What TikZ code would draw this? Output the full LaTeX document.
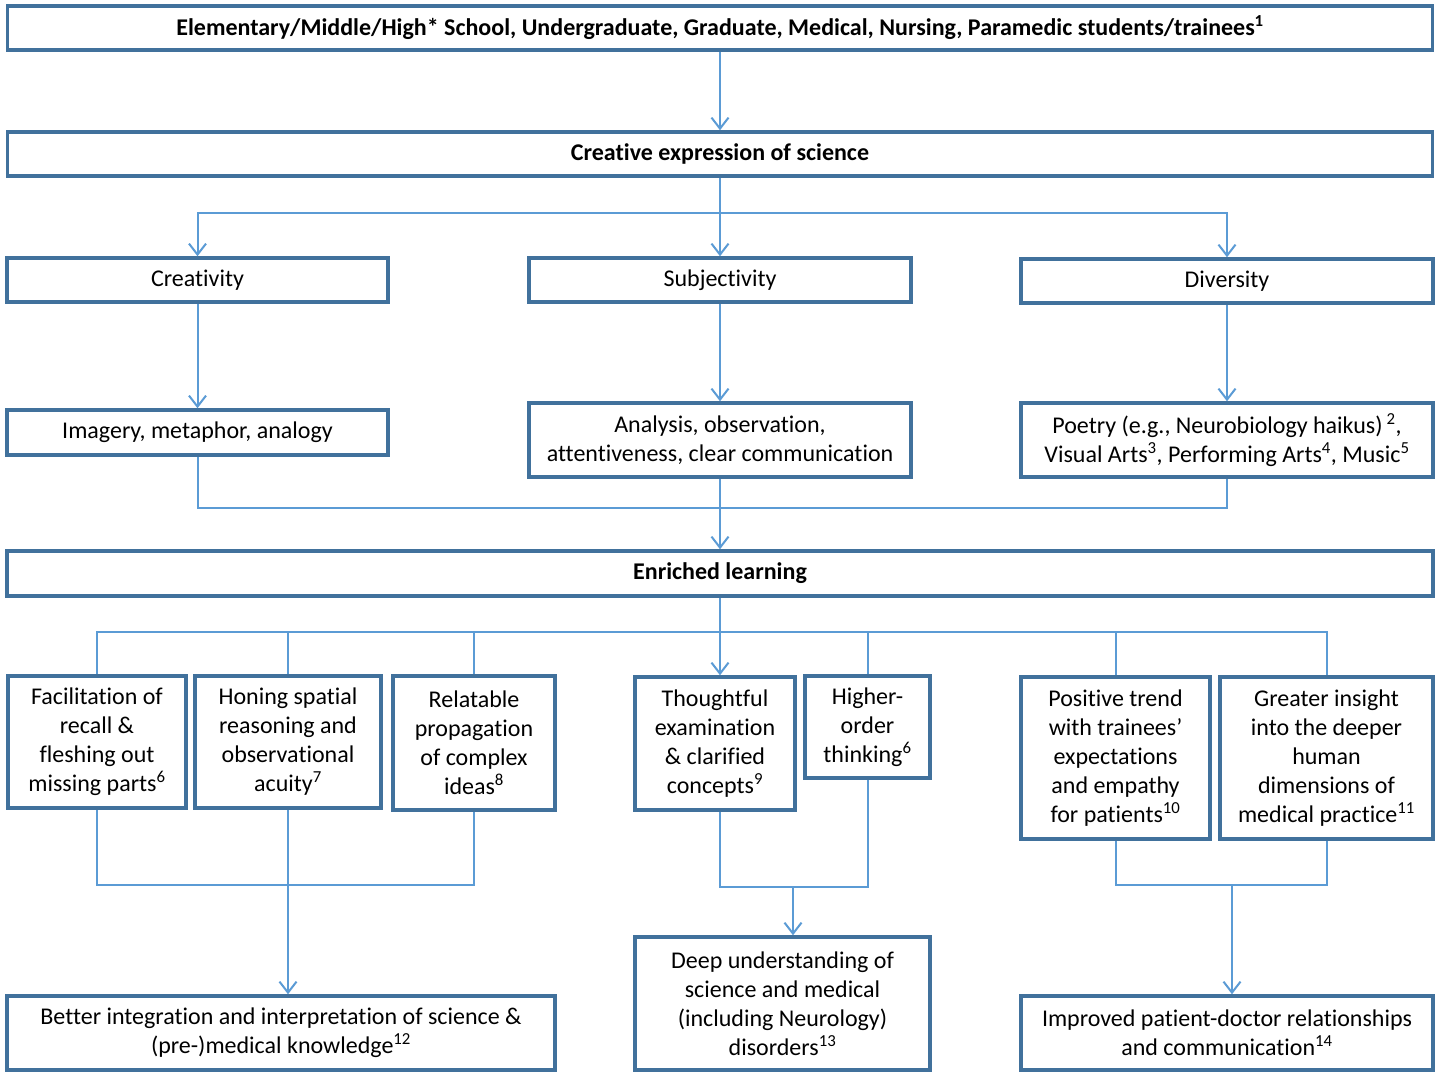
\documentclass[tikz,border=0pt]{standalone}
\usepackage{fontspec}
\setmainfont{Carlito}[Ligatures=NoCommon]
\usetikzlibrary{arrows.meta}
\definecolor{boxc}{RGB}{65,113,156}
\definecolor{linec}{RGB}{91,155,213}
\begin{document}
\begin{tikzpicture}[x=1pt,y=-1pt,
 box/.style={draw=boxc, line width=3.5pt, fill=white, inner sep=0pt, align=center, font=\fontsize{24}{29}\selectfont},
 conn/.style={draw=linec, line width=2pt},
 arr/.style={conn, -{Straight Barb[length=11pt,width=17pt]}}]
\useasboundingbox[fill=white] (0,0) rectangle (1440,1077);
% boxes
\node[box, minimum width=1425, minimum height=44] (top) at (720,28) {\textbf{Elementary/Middle/High* School, Undergraduate, Graduate, Medical, Nursing, Paramedic students/trainees\textsuperscript{1}}};
\node[box, minimum width=1425, minimum height=44] (creative) at (720,154) {\textbf{Creative expression of science}};
\node[box, minimum width=381, minimum height=44] (creativity) at (197.5,280) {Creativity};
\node[box, minimum width=382, minimum height=44] (subj) at (720,280) {Subjectivity};
\node[box, minimum width=412, minimum height=44] (diversity) at (1227,281) {Diversity};
\node[box, minimum width=381, minimum height=45] (imagery) at (197.5,432.5) {Imagery, metaphor, analogy};
\node[box, minimum width=382, minimum height=74] (analysis) at (720,440) {Analysis, observation,\\attentiveness, clear communication};
\node[box, minimum width=412, minimum height=74] (poetry) at (1227,440) {Poetry (e.g., Neurobiology haikus)\,\textsuperscript{2},\\Visual Arts\textsuperscript{3}, Performing Arts\textsuperscript{4}, Music\textsuperscript{5}};
\node[box, minimum width=1426, minimum height=45] (enriched) at (720,573.5) {\textbf{Enriched learning}};
\node[box, minimum width=178, minimum height=132] (facil) at (97,742) {Facilitation of\\recall \&\\fleshing out\\missing parts\textsuperscript{6}};
\node[box, minimum width=186, minimum height=132] (honing) at (288,742) {Honing spatial\\reasoning and\\observational\\acuity\textsuperscript{7}};
\node[box, minimum width=162, minimum height=134] (relat) at (474,743) {Relatable\\propagation\\of complex\\ideas\textsuperscript{8}};
\node[box, minimum width=160, minimum height=133] (thought) at (715,743.5) {Thoughtful\\examination\\\& clarified\\concepts\textsuperscript{9}};
\node[box, minimum width=125, minimum height=102] (higher) at (867.5,727) {Higher-\\order\\thinking\textsuperscript{6}};
\node[box, minimum width=189, minimum height=162] (positive) at (1115.5,758) {Positive trend\\with trainees’\\expectations\\and empathy\\for patients\textsuperscript{10}};
\node[box, minimum width=213, minimum height=162] (greater) at (1326.5,758) {Greater insight\\into the deeper\\human\\dimensions of\\medical practice\textsuperscript{11}};
\node[box, minimum width=548, minimum height=74] (better) at (281,1033) {Better integration and interpretation of science \&\\(pre-)medical knowledge\textsuperscript{12}};
\node[box, minimum width=295, minimum height=133] (deep) at (782.5,1003.5) {Deep understanding of\\science and medical\\(including Neurology)\\disorders\textsuperscript{13}};
\node[box, minimum width=412, minimum height=74] (improved) at (1227,1033) {Improved patient-doctor relationships\\and communication\textsuperscript{14}};
% junctions
\coordinate (j1) at (720,213);
\coordinate (j2) at (720,508);
\coordinate (j3) at (720,632);
\coordinate (j4) at (288,885);
\coordinate (j5) at (793,887);
\coordinate (j6) at (1232,885);
% connectors
\draw[arr] (top.south) -- (creative.north);
\draw[arr] (creative.south) -- (subj.north);
\draw[arr] (j1) -| (creativity.north);
\draw[arr] (j1) -| (diversity.north);
\draw[arr] (creativity.south) -- (imagery.north);
\draw[arr] (subj.south) -- (analysis.north);
\draw[arr] (diversity.south) -- (poetry.north);
\draw[conn] (imagery.south) |- (j2);
\draw[conn] (poetry.south) |- (j2);
\draw[arr] (analysis.south) -- (enriched.north);
\draw[arr] (enriched.south) -- (enriched.south |- thought.north);
\draw[conn] (j3) -| (facil.north);
\draw[conn] (j3) -| (honing.north);
\draw[conn] (j3) -| (relat.north);
\draw[conn] (j3) -| (higher.north);
\draw[conn] (j3) -| (positive.north);
\draw[conn] (j3) -| (greater.north);
\draw[conn] (facil.south) |- (j4);
\draw[conn] (relat.south) |- (j4);
\draw[arr] (honing.south) -- (honing.south |- better.north);
\draw[conn] (thought.south -| enriched.south) |- (j5);
\draw[conn] (higher.south) |- (j5);
\draw[arr] (j5) -- (j5 |- deep.north);
\draw[conn] (positive.south) |- (j6);
\draw[conn] (greater.south) |- (j6);
\draw[arr] (j6) -- (j6 |- improved.north);
\end{tikzpicture}
\end{document}
